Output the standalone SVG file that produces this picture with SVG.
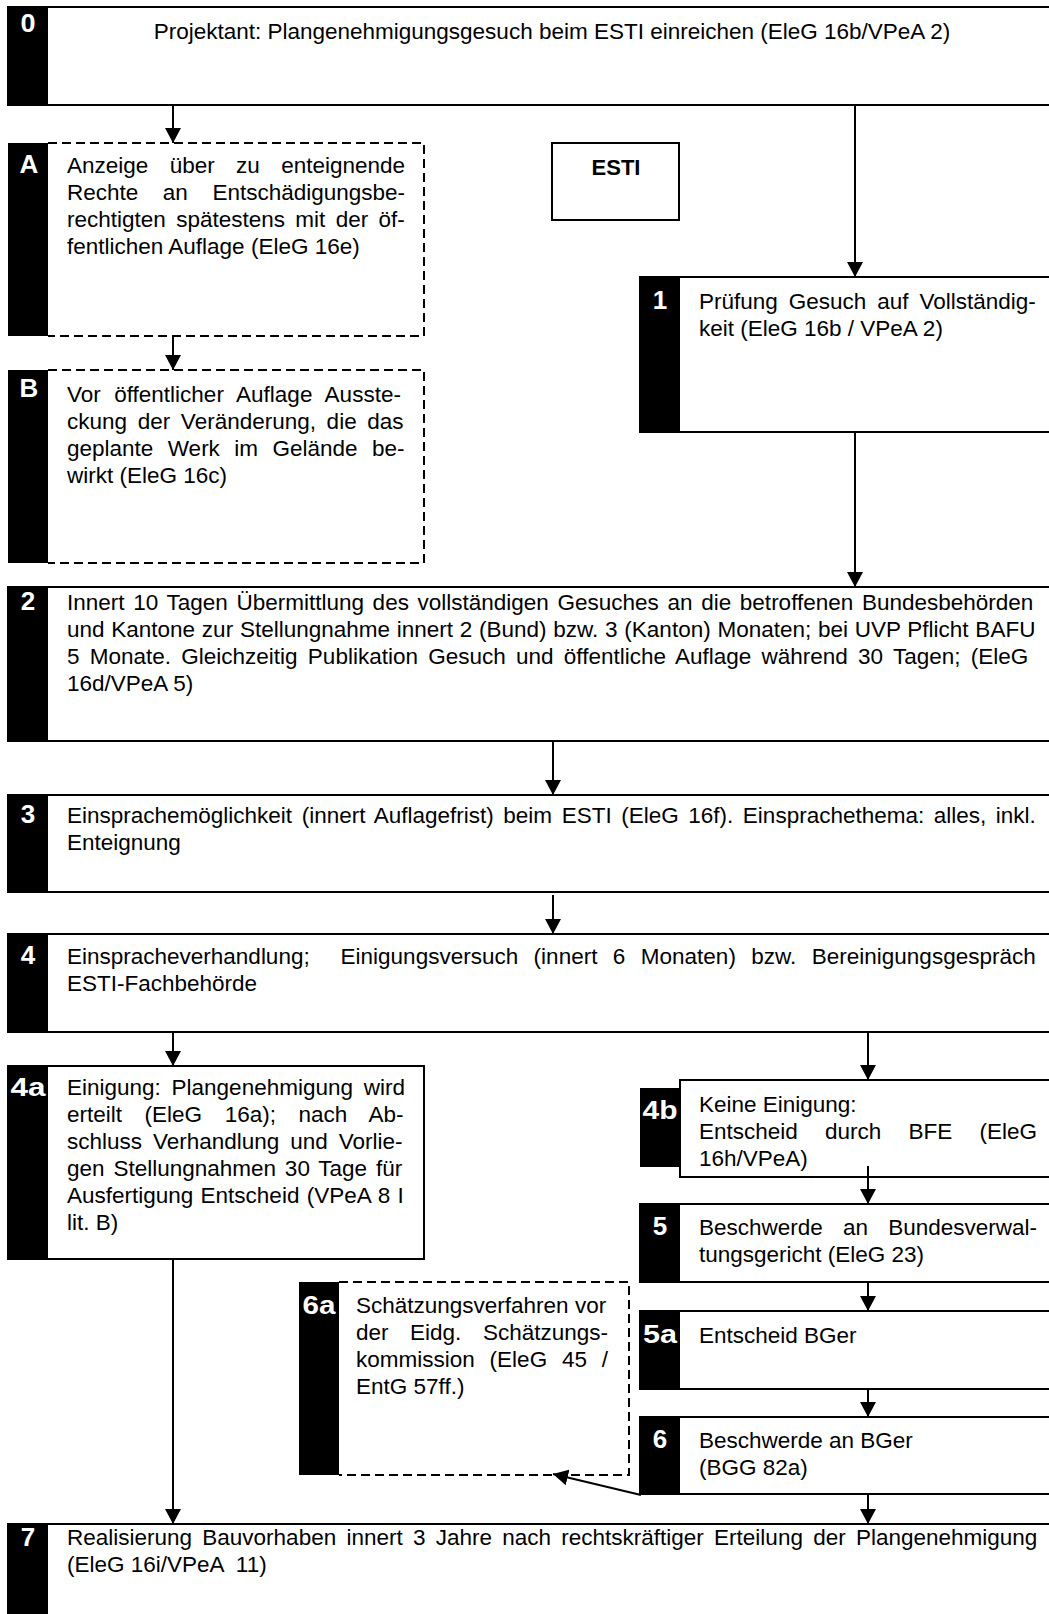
<svg xmlns="http://www.w3.org/2000/svg" width="1049" height="1614" viewBox="0 0 1049 1614">
<style>
.t{font-family:"Liberation Sans",Arial,sans-serif;font-size:22.5px;fill:#000}
.n{font-family:"Liberation Sans",Arial,sans-serif;font-weight:bold;font-size:26px;fill:#fff;text-anchor:middle}
.b{fill:#fff;stroke:#000;stroke-width:2}
.d{fill:#fff;stroke:#000;stroke-width:2;stroke-dasharray:9 5}
.bar{fill:#000}
.c{fill:none;stroke:#000;stroke-width:2}
</style>
<defs>
<marker id="ah" viewBox="0 0 15 16" refX="15" refY="8" markerWidth="15" markerHeight="16" orient="auto" markerUnits="userSpaceOnUse">
<path d="M0,0 L15,8 L0,16 z" fill="#000"/>
</marker>
</defs>
<rect width="1049" height="1614" fill="#fff"/>

<g id="n0">
<rect class="b" x="8" y="7" width="1060" height="98"/>
<rect class="bar" x="8" y="7" width="40" height="98"/>
<text class="n" x="28" y="32" textLength="15" lengthAdjust="spacingAndGlyphs">0</text>
<text class="t" x="552" y="39" text-anchor="middle">Projektant: Plangenehmigungsgesuch beim ESTI einreichen (EleG 16b/VPeA 2)</text>
</g>

<g id="nA">
<path class="d" d="M48,143 H424 V336 H48"/>
<rect class="bar" x="8" y="143" width="40" height="193"/>
<text class="n" x="29" y="173">A</text>
<text class="t" x="67" y="173" word-spacing="15.1">Anzeige über zu enteignende</text>
<text class="t" x="67" y="200" word-spacing="18.3">Rechte an Entschädigungsbe-</text>
<text class="t" x="67" y="227" word-spacing="4.1">rechtigten spätestens mit der öf-</text>
<text class="t" x="67" y="254">fentlichen Auflage (EleG 16e)</text>
</g>

<g id="nB">
<path class="d" d="M48,370 H424 V563 H48"/>
<rect class="bar" x="8" y="370" width="40" height="193"/>
<text class="n" x="29" y="397">B</text>
<text class="t" x="67" y="402" word-spacing="7.2">Vor öffentlicher Auflage Ausste-</text>
<text class="t" x="67" y="429" word-spacing="4.4">ckung der Veränderung, die das</text>
<text class="t" x="67" y="456" word-spacing="8.2">geplante Werk im Gelände be-</text>
<text class="t" x="67" y="483">wirkt (EleG 16c)</text>
</g>

<g id="nESTI">
<rect class="b" x="552" y="143" width="127" height="77"/>
<text x="616" y="175" style="font-family:'Liberation Sans',Arial,sans-serif;font-weight:bold;font-size:22px;text-anchor:middle">ESTI</text>
</g>

<g id="n1">
<rect class="b" x="640" y="277" width="420" height="155"/>
<rect class="bar" x="640" y="277" width="40" height="155"/>
<text class="n" x="660" y="309">1</text>
<text class="t" x="699" y="309" word-spacing="4.7">Prüfung Gesuch auf Vollständig-</text>
<text class="t" x="699" y="336">keit (EleG 16b / VPeA 2)</text>
</g>

<g id="n2">
<rect class="b" x="8" y="587" width="1060" height="154"/>
<rect class="bar" x="8" y="587" width="40" height="154"/>
<text class="n" x="28" y="610">2</text>
<text class="t" x="67" y="610" word-spacing="2.4">Innert 10 Tagen Übermittlung des vollständigen Gesuches an die betroffenen Bundesbehörden</text>
<text class="t" x="67" y="637" word-spacing="0.5">und Kantone zur Stellungnahme innert 2 (Bund) bzw. 3 (Kanton) Monaten; bei UVP Pflicht BAFU</text>
<text class="t" x="67" y="664" word-spacing="4">5 Monate. Gleichzeitig Publikation Gesuch und öffentliche Auflage während 30 Tagen; (EleG</text>
<text class="t" x="67" y="691">16d/VPeA 5)</text>
</g>

<g id="n3">
<rect class="b" x="8" y="795" width="1060" height="97"/>
<rect class="bar" x="8" y="795" width="40" height="97"/>
<text class="n" x="28" y="823">3</text>
<text class="t" x="67" y="823" word-spacing="3.3">Einsprachemöglichkeit (innert Auflagefrist) beim ESTI (EleG 16f). Einsprachethema: alles, inkl.</text>
<text class="t" x="67" y="850">Enteignung</text>
</g>

<g id="n4">
<rect class="b" x="8" y="934" width="1060" height="98"/>
<rect class="bar" x="8" y="934" width="40" height="98"/>
<text class="n" x="28" y="964">4</text>
<text class="t" x="67" y="964" word-spacing="9.2" xml:space="preserve">Einspracheverhandlung;  Einigungsversuch (innert 6 Monaten) bzw. Bereinigungsgespräch</text>
<text class="t" x="67" y="991">ESTI-Fachbehörde</text>
</g>

<g id="n4a">
<rect class="b" x="8" y="1066" width="416" height="193"/>
<rect class="bar" x="8" y="1066" width="40" height="193"/>
<text class="n" x="28" y="1096" textLength="35" lengthAdjust="spacingAndGlyphs">4a</text>
<text class="t" x="67" y="1095" word-spacing="4.5">Einigung: Plangenehmigung wird</text>
<text class="t" x="67" y="1122" word-spacing="16.3">erteilt (EleG 16a); nach Ab-</text>
<text class="t" x="67" y="1149" word-spacing="4.7">schluss Verhandlung und Vorlie-</text>
<text class="t" x="67" y="1176" word-spacing="2.6">gen Stellungnahmen 30 Tage für</text>
<text class="t" x="67" y="1203" word-spacing="1">Ausfertigung Entscheid (VPeA 8 I</text>
<text class="t" x="67" y="1230">lit. B)</text>
</g>

<g id="n4b">
<rect class="b" x="680" y="1080" width="400" height="97"/>
<rect class="bar" x="640" y="1088" width="40" height="79"/>
<text class="n" x="660" y="1119" textLength="35" lengthAdjust="spacingAndGlyphs">4b</text>
<text class="t" x="699" y="1112">Keine Einigung:</text>
<text class="t" x="699" y="1139" word-spacing="21">Entscheid durch BFE (EleG</text>
<text class="t" x="699" y="1166">16h/VPeA)</text>
</g>

<g id="n5">
<rect class="b" x="640" y="1204" width="420" height="78"/>
<rect class="bar" x="640" y="1204" width="40" height="78"/>
<text class="n" x="660" y="1235">5</text>
<text class="t" x="699" y="1235" word-spacing="13.9">Beschwerde an Bundesverwal-</text>
<text class="t" x="699" y="1262">tungsgericht (EleG 23)</text>
</g>

<g id="n5a">
<rect class="b" x="640" y="1311" width="420" height="78"/>
<rect class="bar" x="640" y="1311" width="40" height="78"/>
<text class="n" x="660" y="1343" textLength="34" lengthAdjust="spacingAndGlyphs">5a</text>
<text class="t" x="699" y="1343">Entscheid BGer</text>
</g>

<g id="n6">
<rect class="b" x="640" y="1417" width="420" height="77"/>
<rect class="bar" x="640" y="1417" width="40" height="77"/>
<text class="n" x="660" y="1448">6</text>
<text class="t" x="699" y="1448">Beschwerde an BGer</text>
<text class="t" x="699" y="1475">(BGG 82a)</text>
</g>

<g id="n6a">
<path class="d" d="M339,1282 H629 V1475 H339"/>
<rect class="bar" x="299" y="1282" width="40" height="193"/>
<text class="n" x="319" y="1314" textLength="33" lengthAdjust="spacingAndGlyphs">6a</text>
<text class="t" x="356" y="1313">Schätzungsverfahren vor</text>
<text class="t" x="356" y="1340" word-spacing="15.3">der Eidg. Schätzungs-</text>
<text class="t" x="356" y="1367" word-spacing="8.6">kommission (EleG 45 /</text>
<text class="t" x="356" y="1394">EntG 57ff.)</text>
</g>

<g id="n7">
<rect class="b" x="8" y="1524" width="1060" height="120"/>
<rect class="bar" x="8" y="1524" width="40" height="120"/>
<text class="n" x="28" y="1546">7</text>
<text class="t" x="67" y="1545" word-spacing="4">Realisierung Bauvorhaben innert 3 Jahre nach rechtskräftiger Erteilung der Plangenehmigung</text>
<text class="t" x="67" y="1572" xml:space="preserve">(EleG 16i/VPeA  11)</text>
</g>

<g id="connectors">
<line class="c" x1="173" y1="105" x2="173" y2="143" marker-end="url(#ah)"/>
<line class="c" x1="173" y1="336" x2="173" y2="370" marker-end="url(#ah)"/>
<line class="c" x1="855" y1="105" x2="855" y2="277" marker-end="url(#ah)"/>
<line class="c" x1="855" y1="432" x2="855" y2="587" marker-end="url(#ah)"/>
<line class="c" x1="553" y1="741" x2="553" y2="795" marker-end="url(#ah)"/>
<line class="c" x1="553" y1="895" x2="553" y2="934" marker-end="url(#ah)"/>
<line class="c" x1="173" y1="1032" x2="173" y2="1066" marker-end="url(#ah)"/>
<line class="c" x1="868" y1="1032" x2="868" y2="1080" marker-end="url(#ah)"/>
<line class="c" x1="868" y1="1166" x2="868" y2="1204" marker-end="url(#ah)"/>
<line class="c" x1="868" y1="1282" x2="868" y2="1311" marker-end="url(#ah)"/>
<line class="c" x1="868" y1="1389" x2="868" y2="1417" marker-end="url(#ah)"/>
<line class="c" x1="868" y1="1494" x2="868" y2="1524" marker-end="url(#ah)"/>
<line class="c" x1="173" y1="1259" x2="173" y2="1524" marker-end="url(#ah)"/>
<line class="c" x1="641" y1="1495" x2="553" y2="1474" marker-end="url(#ah)"/>
</g>
</svg>
